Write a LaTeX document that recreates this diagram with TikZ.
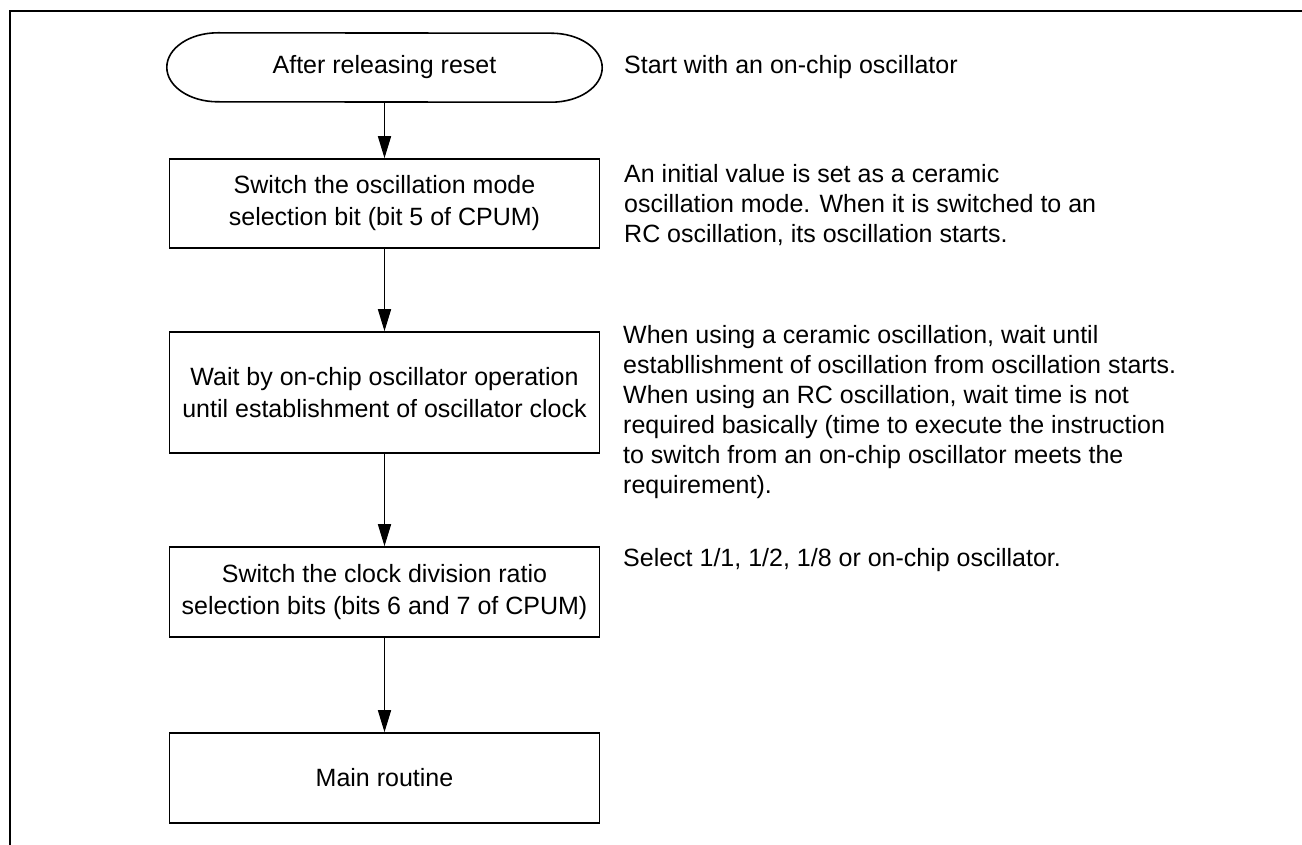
\documentclass[tikz,border=0pt]{standalone}
\usepackage{fontspec}
\setmainfont{Liberation Sans}
\usetikzlibrary{arrows.meta}
\begin{document}
\begin{tikzpicture}[x=1pt,y=-1pt,
  txt/.style={font=\fontsize{25}{30}\selectfont},
  boxtxt/.style={font=\fontsize{25}{32}\selectfont},
  procbox/.style={draw, line width=1.6pt, minimum width=430pt, inner sep=0pt, align=center, boxtxt},
  note/.style={anchor=west, align=left, inner sep=0pt, txt},
  arr/.style={line width=1.6pt, -{Triangle[length=22pt,width=13pt]}},
  frame/.style={line width=2pt}
]
\useasboundingbox (0,0) rectangle (1302,845);
\draw[frame] (10,850) -- (10,11) -- (1310,11);

% terminal
\node[txt, minimum width=435pt, minimum height=69pt, inner sep=0pt] (t) at (384.5,67.5) {After releasing reset};
\draw[line width=1.6pt] ([xshift=51pt]t.north west)
  arc[start angle=90, end angle=270, x radius=51pt, y radius=34.5pt]
  -- ([xshift=-51pt]t.south east)
  arc[start angle=-90, end angle=90, x radius=51pt, y radius=34.5pt]
  -- cycle;

\node[procbox, minimum height=89pt] (b1) at (384.5,203.5) {Switch the oscillation mode\\selection bit (bit 5 of CPUM)};
\node[procbox, minimum height=121pt] (b2) at (384.5,392.5) {Wait by on-chip oscillator operation\\until establishment of oscillator clock};
\node[procbox, minimum height=90pt] (b3) at (384.5,592) {Switch the clock division ratio\\selection bits (bits 6 and 7 of CPUM)};
\node[procbox, minimum height=90pt] (b4) at (384.5,778) {Main routine};

\draw[arr] (t) -- (b1);
\draw[arr] (b1) -- (b2);
\draw[arr] (b2) -- (b3);
\draw[arr] (b3) -- (b4);

\node[note] (n0) at (624,67.5) {Start with an on-chip oscillator};
\node[note] (n1) at (624,205) {An initial value is set as a ceramic\\oscillation mode. When it is switched to an\\RC oscillation, its oscillation starts.};
\node[note] (n2) at (623,412.5) {When using a ceramic oscillation, wait until\\establlishment of oscillation from oscillation starts.\\When using an RC oscillation, wait time is not\\required basically (time to execute the instruction\\to switch from an on-chip oscillator meets the\\requirement).};
\node[note] (n3) at (623,560) {Select 1/1, 1/2, 1/8 or on-chip oscillator.};
\end{tikzpicture}
\end{document}
